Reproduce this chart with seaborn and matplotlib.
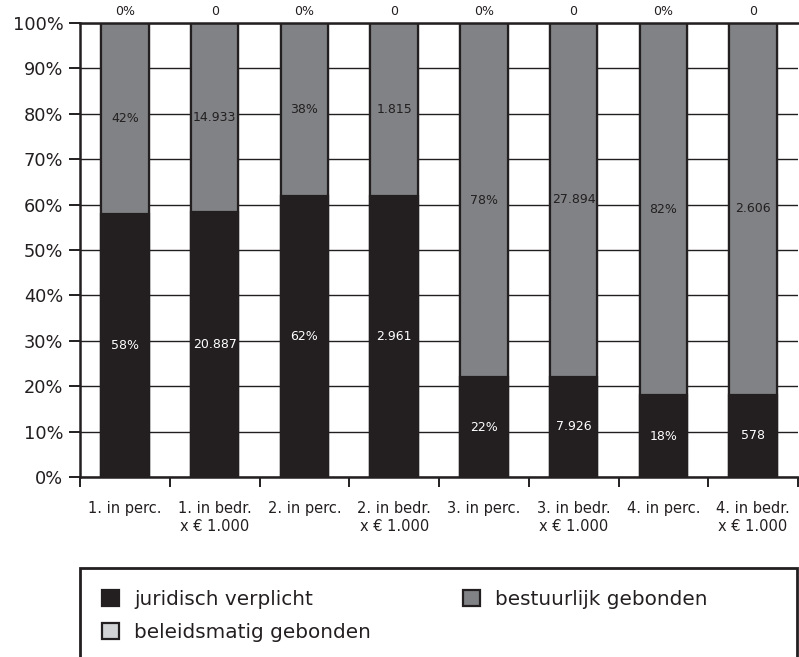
import numpy as np
import pandas as pd
import matplotlib
matplotlib.use("Agg")
import matplotlib.pyplot as plt
import seaborn as sns
from matplotlib.patches import Rectangle, Patch

# ---- data ----
categories = ["1. in perc.", "1. in bedr.\nx € 1.000", "2. in perc.", "2. in bedr.\nx € 1.000",
              "3. in perc.", "3. in bedr.\nx € 1.000", "4. in perc.", "4. in bedr.\nx € 1.000"]
is_percent = [True, False, True, False, True, False, True, False]
juridisch = [58, 20887, 62, 2961, 22, 7926, 18, 578]
bestuurlijk = [42, 14933, 38, 1815, 78, 27894, 82, 2606]
beleidsmatig = [0, 0, 0, 0, 0, 0, 0, 0]
series_names = ["juridisch verplicht", "bestuurlijk gebonden", "beleidsmatig gebonden"]
y_ticks = [0, 10, 20, 30, 40, 50, 60, 70, 80, 90, 100]

DARK = "#231f20"
GREY = "#808285"
LIGHT = "#d1d3d4"

def fmt(v, pct):
    if pct:
        return f"{v}%"
    return f"{v:,}".replace(",", ".")

df = pd.DataFrame({"cat": categories, "jur": juridisch, "best": bestuurlijk,
                   "bel": beleidsmatig, "pct": is_percent})
df["total"] = df["jur"] + df["best"] + df["bel"]
df["s_jur"] = df["jur"] / df["total"] * 100
df["s_best"] = df["best"] / df["total"] * 100
df["s_bel"] = df["bel"] / df["total"] * 100
df["c_all"] = df["s_jur"] + df["s_best"] + df["s_bel"]
df["c_jb"] = df["s_jur"] + df["s_best"]

fig = plt.figure(figsize=(7.99, 6.57), dpi=100)
ax = fig.add_axes([80 / 799, 1 - 477 / 657, 718 / 799, 454 / 657])

W = 0.53
LW = 1.6
sns.barplot(data=df, x="cat", y="c_all", color=LIGHT, saturation=1, width=W,
            edgecolor=DARK, linewidth=LW, ax=ax, order=categories)
sns.barplot(data=df, x="cat", y="c_jb", color=GREY, saturation=1, width=W,
            edgecolor=DARK, linewidth=LW, ax=ax, order=categories)
sns.barplot(data=df, x="cat", y="s_jur", color=DARK, saturation=1, width=W,
            edgecolor=DARK, linewidth=LW, ax=ax, order=categories)

# labels
for i, row in df.iterrows():
    pct = row["pct"]
    ax.text(i, row["s_jur"] / 2, fmt(row["jur"], pct), ha="center", va="center",
            color="white", fontsize=9)
    ax.text(i, row["s_jur"] + row["s_best"] / 2, fmt(row["best"], pct), ha="center",
            va="center", color=DARK, fontsize=9)
    ax.annotate(fmt(row["bel"], pct), (i, row["c_all"]), xytext=(0, 8),
                textcoords="offset points", ha="center", va="center",
                color=DARK, fontsize=9, annotation_clip=False)

ax.set_ylim(0, 100)
ax.set_xlim(-0.5, len(categories) - 0.5)
ax.set_yticks(y_ticks)
ax.set_yticklabels([f"{v}%" for v in y_ticks], fontsize=12.8, color=DARK)
ax.set_xticks(np.arange(-0.5, len(categories), 1.0))
ax.set_xticklabels([""] * (len(categories) + 1))
ax.set_xticks(np.arange(len(categories)), minor=True)
ax.set_xticklabels(categories, minor=True, fontsize=10.5, color=DARK, linespacing=1.2)
ax.tick_params(axis="x", which="major", length=7.5, width=1.4, color=DARK)
ax.tick_params(axis="x", which="minor", length=0, pad=17.5)
ax.tick_params(axis="y", length=8, width=1.4, color=DARK, pad=4)
ax.set_xlabel("")
ax.set_ylabel("")

ax.set_axisbelow(True)
ax.yaxis.grid(True, color=DARK, linewidth=1.0)
ax.xaxis.grid(False)
for s in ["left", "bottom", "top"]:
    ax.spines[s].set_visible(True)
    ax.spines[s].set_color(DARK)
    ax.spines[s].set_linewidth(1.8)
ax.spines["right"].set_visible(False)

# legend frame (extends past the bottom of the figure)
fig.patches.append(Rectangle((80 / 799, -0.1), 717 / 799, (657 - 568) / 657 + 0.1,
                             transform=fig.transFigure, fill=False,
                             edgecolor=DARK, linewidth=2))
handles = [Patch(facecolor=DARK, edgecolor=DARK, linewidth=1.6),
           Patch(facecolor=LIGHT, edgecolor=DARK, linewidth=1.6),
           Patch(facecolor=GREY, edgecolor=DARK, linewidth=1.6)]
labels = [series_names[0], series_names[2], series_names[1]]
fig.legend(handles, labels, loc="upper left", bbox_to_anchor=(102 / 799, 1 - 590 / 657),
           bbox_transform=fig.transFigure, ncol=2, frameon=False, fontsize=14.4,
           handlelength=0.85, handleheight=0.85, handletextpad=0.75,
           columnspacing=4.6, labelspacing=0.7, borderpad=0, borderaxespad=0,
           labelcolor=DARK)

fig.savefig("out.png", dpi=100)
